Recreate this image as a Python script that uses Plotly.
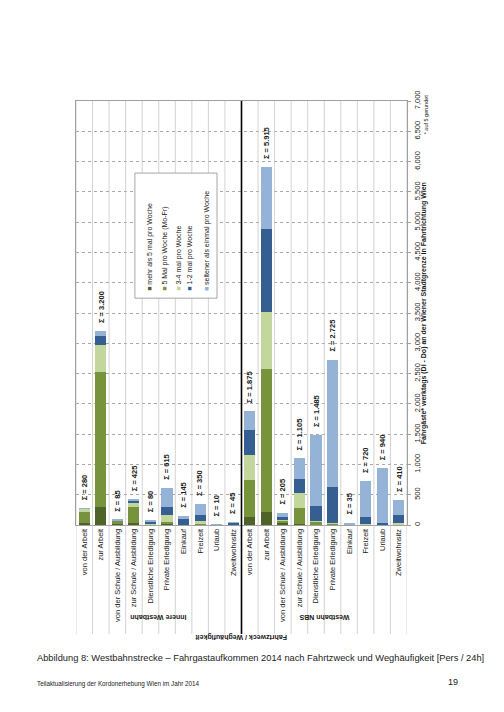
import plotly.graph_objects as go

# categories (same list for both route sections)
categories = ["von der Arbeit", "zur Arbeit", "von der Schule / Ausbildung",
              "zur Schule / Ausbildung", "Dienstliche Erledigung", "Private Erledigung",
              "Einkauf", "Freizeit", "Urlaub", "Zweitwohnsitz"]
groups = ["Innere Westbahn", "Westbahn NBS"]

freq_names = ["mehr als 5 mal pro Woche", "5 Mal pro Woche (Mo-Fr)", "3-4 mal pro Woche",
              "1-2 mal pro Woche", "seltener als einmal pro Woche"]

# Innere Westbahn
iw_mehr5 = [40, 300, 15, 40, 0, 10, 0, 5, 0, 0]
iw_mal5 = [180, 2230, 60, 265, 5, 40, 0, 10, 0, 5]
iw_mal34 = [50, 450, 5, 65, 10, 110, 5, 50, 0, 5]
iw_mal12 = [0, 140, 0, 40, 35, 140, 110, 100, 0, 25]
iw_selten = [10, 80, 5, 15, 30, 315, 30, 185, 10, 10]
iw_sigma = [280, 3200, 85, 425, 80, 615, 145, 350, 10, 45]

# Westbahn NBS
nbs_mehr5 = [130, 220, 30, 15, 5, 5, 0, 0, 0, 5]
nbs_mal5 = [615, 2350, 45, 260, 50, 15, 0, 5, 0, 10]
nbs_mal34 = [410, 950, 15, 250, 10, 20, 0, 5, 5, 10]
nbs_mal12 = [410, 1375, 50, 235, 250, 585, 5, 115, 35, 135]
nbs_selten = [310, 1020, 65, 345, 1170, 2100, 30, 595, 900, 250]
nbs_sigma = [1875, 5915, 205, 1105, 1485, 2725, 35, 720, 940, 410]

colors = ["#4f6228", "#77933c", "#c3d69b", "#365f91", "#95b3d7"]

FONT = "Liberation Sans Narrow, Arial Narrow, Liberation Sans, Arial"
TXT = "#1a1a1a"

series = [iw_mehr5 + nbs_mehr5, iw_mal5 + nbs_mal5, iw_mal34 + nbs_mal34,
          iw_mal12 + nbs_mal12, iw_selten + nbs_selten]
sigma = iw_sigma + nbs_sigma
xpos = list(range(len(categories) * 2))

fig = go.Figure()
for name, vals, col in zip(freq_names, series, colors):
    fig.add_trace(go.Bar(x=xpos, y=vals, name=name, marker_color=col,
                         marker_line_width=0, showlegend=False))

# sum labels above the bars (German thousands separator)
for x, s in zip(xpos, sigma):
    label = f"{s:,}".replace(",", ".")
    fig.add_annotation(x=x, y=s, xref="x", yref="y", text=f"<b>\u03a3 = {label}</b>",
                       textangle=-90, showarrow=False, yanchor="bottom", yshift=6,
                       font=dict(family=FONT, size=7.5, color=TXT))

# category separators (extend into the label area), thick line between the groups
for b in range(len(xpos) + 1):
    xb = b - 0.5
    mid = b == len(categories)
    fig.add_shape(type="line", xref="x", yref="paper", x0=xb, x1=xb, y0=-0.257, y1=1,
                  line=dict(color="black" if mid else "#c8c8c8", width=1.6 if mid else 0.8),
                  layer="above")

# legend box drawn by hand (rotated like the chart)
fig.add_shape(type="rect", xref="paper", yref="paper", x0=0.178, x1=0.426, y0=0.535, y1=0.83,
              line=dict(color="#909090", width=0.8), fillcolor="white", layer="above")
leg_x = [0.203, 0.251, 0.295, 0.346, 0.394]
for lx, name, col in zip(leg_x, freq_names, colors):
    fig.add_annotation(xref="paper", yref="paper", x=lx, y=0.548, yanchor="bottom",
                       text=f"<span style='color:{col}'>\u25a0</span> {name}",
                       textangle=-90, showarrow=False,
                       font=dict(family=FONT, size=7, color=TXT))

# group labels (upside down in the rotated page)
fig.add_annotation(xref="x", yref="paper", x=4.5, y=-0.231, text="<b>Innere Westbahn</b>",
                   textangle=180, showarrow=False, font=dict(family=FONT, size=7, color=TXT))
fig.add_annotation(xref="x", yref="paper", x=14.5, y=-0.231, text="<b>Westbahn NBS</b>",
                   textangle=180, showarrow=False, font=dict(family=FONT, size=7, color=TXT))
fig.add_annotation(xref="x", yref="paper", x=9.5, y=-0.28, text="<b>Fahrtzweck / Wegh\u00e4ufigkeit</b>",
                   textangle=180, showarrow=False, font=dict(family=FONT, size=7, color=TXT))

# value axis title and footnote
fig.add_annotation(xref="paper", yref="paper", x=1.07, y=0.5,
                   text="<b>Fahrg\u00e4ste* werktags (Di - Do) an der Wiener Stadtgrenze in Fahrtrichtung Wien</b>",
                   textangle=-90, showarrow=False, font=dict(family=FONT, size=7, color=TXT))
fig.add_annotation(xref="paper", yref="paper", x=1.072, y=1.02, yanchor="top",
                   text="* auf 5 gerundet", textangle=-90, showarrow=False,
                   font=dict(family=FONT, size=5.5, color=TXT))

# page caption and footer
fig.add_annotation(xref="paper", yref="paper", x=-0.124, y=-0.331, xanchor="left",
                   text="Abbildung 8: Westbahnstrecke \u2013 Fahrgastaufkommen 2014 nach Fahrtzweck und Wegh\u00e4ufigkeit [Pers / 24h]",
                   showarrow=False, font=dict(family="Liberation Sans, Arial", size=9.3, color="#222"))
fig.add_annotation(xref="paper", yref="paper", x=-0.124, y=-0.39, xanchor="left",
                   text="Teilaktualisierung der Kordonerhebung Wien im Jahr 2014",
                   showarrow=False, font=dict(family="Liberation Sans, Arial", size=6.3, color="#222"))
fig.add_annotation(xref="paper", yref="paper", x=1.16, y=-0.387, xanchor="right",
                   text="19", showarrow=False, font=dict(family="Liberation Sans, Arial", size=9, color="#222"))

# the page has an 8px body margin, so the figure is 8px smaller and shifted
fig.update_layout(
    width=496, height=704, autosize=False,
    margin=dict(l=68, r=97, t=93, b=187),
    barmode="stack", bargap=0.33,
    paper_bgcolor="white", plot_bgcolor="white",
    showlegend=False,
)
fig.update_xaxes(range=[-0.5, len(xpos) - 0.5], tickvals=xpos, ticktext=categories * 2,
                 tickangle=-90, ticks="", showgrid=False, zeroline=False,
                 showline=True, linecolor="#a0a0a0", linewidth=0.8, mirror=True,
                 tickfont=dict(family=FONT, size=7.5, color=TXT))
fig.update_yaxes(side="right", range=[0, 7000], dtick=500, tickformat=",",
                 showgrid=True, gridcolor="#a8a8a8", gridwidth=0.7, griddash="dot",
                 zeroline=False, showline=True, linecolor="#a0a0a0", linewidth=0.8, mirror=True,
                 ticks="outside", ticklen=3, tickcolor="#a0a0a0", tickangle=-90,
                 tickfont=dict(family=FONT, size=7.5, color=TXT))

fig.write_html("out.html")
